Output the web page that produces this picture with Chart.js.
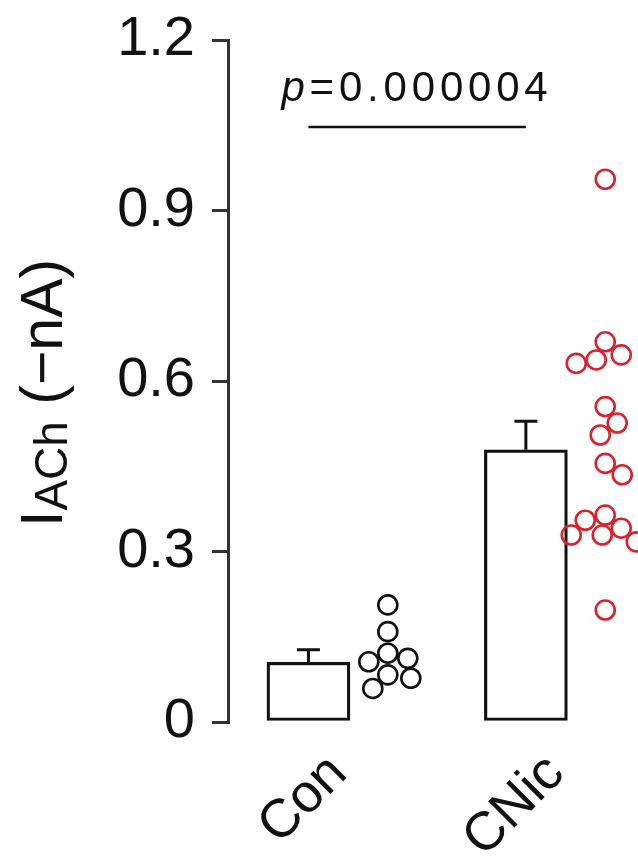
<!DOCTYPE html>
<html>
<head>
<meta charset="utf-8">
<script src="https://cdn.jsdelivr.net/npm/chart.js@4.4.1/dist/chart.umd.min.js"></script>
<style>
  html, body { margin: 0; padding: 0; background: #fff; }
  canvas { display: block; }
</style>
</head>
<body>
<canvas id="chart" width="638" height="866"></canvas>
<script>
// Groups and summary statistics of the ACh-evoked current (−nA)
const groups = ['Con', 'CNic'];
const groupMeans = [0.105, 0.479];
const groupSEM = [0.022, 0.05];

// Individual cells per group
const conCells = [0.206, 0.159, 0.121, 0.112, 0.106, 0.083, 0.077, 0.059];
const cnicCells = [0.955, 0.669, 0.646, 0.637, 0.631, 0.555, 0.526, 0.505,
                   0.455, 0.435, 0.364, 0.355, 0.341, 0.329, 0.329, 0.317, 0.197];

// Axis ticks and the comparison annotation
const yTicks = [0, 0.3, 0.6, 0.9, 1.2];
const pValueText = '0.000004';
const sigLineLevel = 1.047;

const FONT = "'Liberation Sans', Arial, Helvetica, sans-serif";
const INK = '#111';
const RED = '#d8232f';
const SWARM_SHIFT = 0.365;   // dots sit to the right of each bar (x units)

// Error bars, significance bracket, axis title and group labels
const decorations = {
  id: 'decorations',
  afterDatasetsDraw(chart) {
    const { ctx, scales: { x, y } } = chart;
    ctx.save();
    ctx.strokeStyle = INK;
    ctx.lineWidth = 3;
    ctx.lineCap = 'butt';
    groupMeans.forEach((m, i) => {
      const cx = x.getPixelForValue(i + 1);
      const yTop = y.getPixelForValue(m);
      const yErr = y.getPixelForValue(m + groupSEM[i]);
      ctx.beginPath();
      ctx.moveTo(cx, yTop);
      ctx.lineTo(cx, yErr);
      ctx.moveTo(cx - 11.5, yErr);
      ctx.lineTo(cx + 11.5, yErr);
      ctx.stroke();
    });
    ctx.restore();
  },
  afterDraw(chart) {
    const { ctx, scales: { x, y }, chartArea } = chart;
    ctx.save();
    ctx.fillStyle = INK;

    // significance bracket
    const yl = y.getPixelForValue(sigLineLevel);
    ctx.strokeStyle = INK;
    ctx.lineWidth = 2.5;
    ctx.beginPath();
    ctx.moveTo(x.getPixelForValue(1), yl);
    ctx.lineTo(x.getPixelForValue(2), yl);
    ctx.stroke();

    // p-value text, letter-spaced
    const spacing = 4.8;
    let tx = x.getPixelForValue(1) - 27;
    const ty = yl - 26;
    ctx.textBaseline = 'alphabetic';
    ctx.textAlign = 'left';
    ctx.font = `italic 42px ${FONT}`;
    ctx.fillText('p', tx, ty);
    tx += ctx.measureText('p').width + spacing;
    ctx.font = `42px ${FONT}`;
    for (const ch of '=' + pValueText) {
      ctx.fillText(ch, tx, ty);
      tx += ctx.measureText(ch).width + spacing;
    }

    // y axis title: I_ACh (−nA)
    ctx.save();
    ctx.translate(62, 527);
    ctx.rotate(-Math.PI / 2);
    ctx.textAlign = 'left';
    ctx.textBaseline = 'alphabetic';
    let px = 0;
    ctx.font = `59px ${FONT}`;
    ctx.fillText('I', px, 0);
    px += ctx.measureText('I').width;
    ctx.font = `46px ${FONT}`;
    ctx.fillText('ACh', px, 5);
    px += ctx.measureText('ACh').width;
    ctx.font = `59px ${FONT}`;
    ctx.fillText(' (\u2212nA)', px, 0);
    ctx.restore();

    // rotated group labels
    ctx.font = `54px ${FONT}`;
    ctx.textAlign = 'right';
    ctx.textBaseline = 'middle';
    groups.forEach((g, i) => {
      ctx.save();
      ctx.translate(x.getPixelForValue(i + 1) + 30, chartArea.bottom + 43);
      ctx.rotate(-Math.PI / 4);
      ctx.fillText(g, 0, 0);
      ctx.restore();
    });
    ctx.restore();
  }
};

const dotStyle = (color) => ({
  type: 'scatter',
  pointRadius: 9.5,
  pointHoverRadius: 9.5,
  pointBorderWidth: 2.6,
  pointBorderColor: color,
  pointBackgroundColor: 'rgba(0,0,0,0)',
  clip: false,
  order: 1
});

const chart = new Chart(document.getElementById('chart'), {
  type: 'bar',
  data: {
    datasets: [
      {
        type: 'bar',
        data: groups.map((g, i) => ({ x: i + 1, y: groupMeans[i] })),
        backgroundColor: '#fff',
        borderColor: INK,
        borderWidth: 3.2,
        borderSkipped: false,
        barThickness: 83,
        order: 2
      },
      Object.assign(dotStyle(INK), { data: conCells.map(v => ({ x: 1 + SWARM_SHIFT, y: v })) }),
      Object.assign(dotStyle(RED), { data: cnicCells.map(v => ({ x: 2 + SWARM_SHIFT, y: v })) })
    ]
  },
  options: {
    responsive: false,
    devicePixelRatio: 1,
    animation: false,
    layout: { padding: { left: 0, right: 0, top: 40, bottom: 144 } },
    plugins: { legend: { display: false }, tooltip: { enabled: false } },
    scales: {
      x: { type: 'linear', min: 0.63, max: 2.46, display: false, offset: false },
      y: {
        type: 'linear',
        min: 0,
        max: 1.2,
        afterBuildTicks: (s) => { s.ticks = yTicks.map(v => ({ value: v })); },
        afterFit: (s) => { s.width = 228; },
        ticks: {
          callback: (v) => (v === 0 ? '0' : v.toFixed(1)),
          font: { family: FONT, size: 56, lineHeight: 0.4 },
          color: INK,
          padding: 17
        },
        grid: {
          drawOnChartArea: false,
          drawTicks: true,
          tickLength: 16,
          tickWidth: 3,
          tickColor: '#333',
          lineWidth: 3,
          color: '#333'
        },
        border: { display: true, width: 3, color: '#333' }
      }
    }
  },
  plugins: [decorations]
});

// Spread the dots of each group sideways so they do not pile on top of each other;
// when both sides are free, go to the side that keeps the cloud balanced.
function swarm(values, centerPx, yScale, minDist) {
  const placed = [];
  let offSum = 0;
  return values.map(v => {
    const py = yScale.getPixelForValue(v);
    const free = (px) => placed.every(p => Math.hypot(p.x - px, p.y - py) >= minDist);
    let off = 0;
    for (let k = 0; k < 300; k++) {
      if (k === 0) { if (free(centerPx)) { off = 0; break; } continue; }
      const plus = free(centerPx + k), minus = free(centerPx - k);
      if (plus && minus) { off = offSum > 0 ? -k : k; break; }
      if (plus) { off = k; break; }
      if (minus) { off = -k; break; }
    }
    offSum += off;
    placed.push({ x: centerPx + off, y: py });
    return centerPx + off;
  });
}

const xs = chart.scales.x, ys = chart.scales.y;
[conCells, cnicCells].forEach((cells, i) => {
  const centerPx = xs.getPixelForValue(i + 1 + SWARM_SHIFT);
  const pxs = swarm(cells, centerPx, ys, 20);
  chart.data.datasets[i + 1].data = cells.map((v, j) => ({ x: xs.getValueForPixel(pxs[j]), y: v }));
});
chart.update('none');
</script>
</body>
</html>
